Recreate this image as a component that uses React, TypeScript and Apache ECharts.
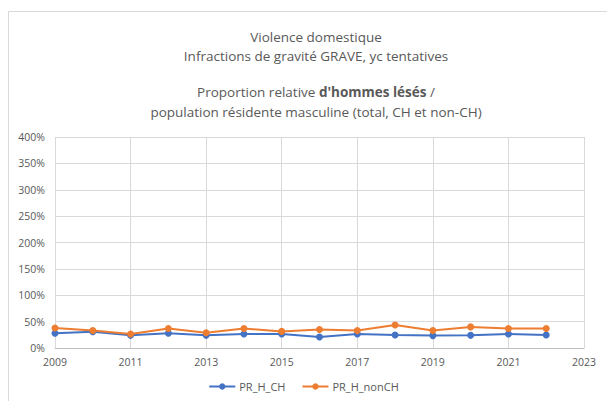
import React, { useEffect, useRef } from "react";
import * as echarts from "echarts";

const years = [2009, 2010, 2011, 2012, 2013, 2014, 2015, 2016, 2017, 2018, 2019, 2020, 2021, 2022];
const prHCH = [28, 31, 24, 28, 24, 26.5, 26.5, 21, 26.5, 24.5, 23.5, 24, 26.5, 24.5];
const prHNonCH = [38, 33, 26.5, 37, 29, 37, 31.5, 35, 33, 43.5, 33, 40, 37, 37];
const titleLines = [
  "Violence domestique",
  "Infractions de gravité GRAVE, yc tentatives",
];
const seriesNames = ["PR_H_CH", "PR_H_nonCH"];

export default function App() {
  const ref = useRef<HTMLDivElement>(null);
  useEffect(() => {
    if (!ref.current) return;
    const chart = echarts.init(ref.current, undefined, { renderer: "svg" });
    const font = "'Open Sans', 'Noto Sans', sans-serif";
    const txt = "#595959";
    chart.setOption({
      animation: false,
      textStyle: { fontFamily: font },
      graphic: [
        {
          type: "rect",
          shape: { x: 8.5, y: 11.5, width: 620, height: 400 },
          style: { fill: "none", stroke: "#d9d9d9", lineWidth: 1 },
          silent: true,
        },
      ],
      title: [
        {
          text: titleLines.join("\n"),
          left: 311,
          top: 22,
          textAlign: "center",
          textStyle: { fontSize: 13.5, fontWeight: "normal", color: txt, lineHeight: 19, fontFamily: font },
        },
        {
          text: "{n|Proportion relative }{b|d'hommes lésés}{n| /}\n{n|population résidente masculine (total, CH et non-CH)}",
          left: 311,
          top: 77,
          textAlign: "center",
          textStyle: {
            fontWeight: "normal",
            rich: {
              n: { fontSize: 13.5, color: txt, fontFamily: font, fontWeight: "normal", lineHeight: 20 },
              b: { fontSize: 13.5, color: txt, fontFamily: font, fontWeight: "bold", lineHeight: 20 },
            },
          },
        },
      ],
      legend: {
        bottom: 4,
        left: "center",
        itemWidth: 26,
        itemHeight: 8,
        itemGap: 16,
        textStyle: { color: txt, fontSize: 11, fontFamily: font, padding: [0, 0, 0, -1] },
        data: seriesNames,
      },
      grid: { left: 55, right: 23, top: 137, bottom: 53 },
      xAxis: {
        type: "value",
        min: 2009,
        max: 2023,
        interval: 2,
        axisLine: { show: true, lineStyle: { color: "#bfbfbf" } },
        axisTick: { show: false },
        splitLine: { show: true, lineStyle: { color: "#d9d9d9" } },
        axisLabel: { color: txt, fontSize: 10.5, margin: 8, formatter: (v: number) => String(v) },
      },
      yAxis: {
        type: "value",
        min: 0,
        max: 400,
        interval: 50,
        axisLine: { show: false },
        axisTick: { show: false },
        splitLine: { show: true, lineStyle: { color: "#d9d9d9" } },
        axisLabel: { color: txt, fontSize: 10.5, margin: 10, formatter: (v: number) => v + "%" },
      },
      series: [
        {
          name: seriesNames[0],
          type: "line",
          data: years.map((y, i) => [y, prHCH[i]]),
          symbol: "circle",
          symbolSize: 7,
          lineStyle: { width: 2, color: "#4472C4" },
          itemStyle: { color: "#4472C4" },
        },
        {
          name: seriesNames[1],
          type: "line",
          data: years.map((y, i) => [y, prHNonCH[i]]),
          symbol: "circle",
          symbolSize: 7,
          lineStyle: { width: 2, color: "#ED7D31" },
          itemStyle: { color: "#ED7D31" },
        },
      ],
    });
    return () => chart.dispose();
  }, []);
  return (
    <div
      ref={ref}
      style={{ position: "absolute", left: 0, top: 0, width: 607, height: 401 }}
    />
  );
}
